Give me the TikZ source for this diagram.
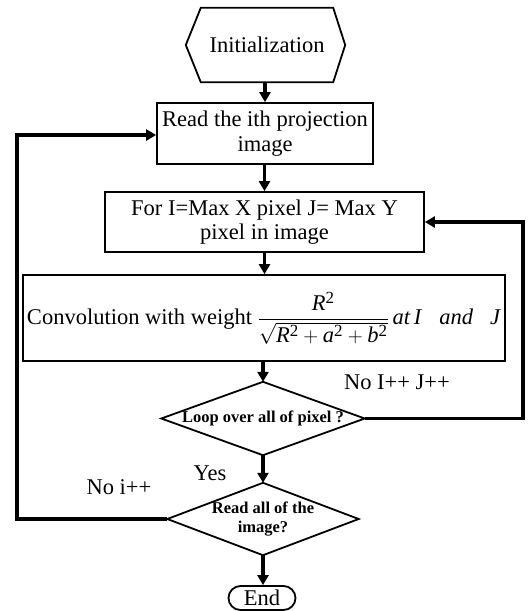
\documentclass[tikz,border=0pt]{standalone}
\usepackage{amsmath}
\usepackage{fontspec}
\setmainfont{Liberation Serif}
\usetikzlibrary{arrows.meta}
\newcommand\mysq{^{\text{\fontsize{17}{17}\selectfont\upshape 2}}}
\begin{document}
\begin{tikzpicture}[x=1pt,y=-1pt,
  txt/.style={font=\fontsize{22.5}{24.5}\selectfont},
  box/.style={txt,draw,line width=1.8pt,align=center,inner sep=0pt},
  conn/.style={line width=3.2pt,-{Triangle[length=10pt,width=11pt]}},
  decn/.style={font=\bfseries\fontsize{16.5}{18.5}\selectfont,align=center,inner sep=0pt},
  outline/.style={line width=1.8pt,line join=miter}
]
\useasboundingbox (0,0) rectangle (529,611);

% Initialization hexagon
\node[txt,minimum width=132pt,minimum height=74pt,inner sep=0pt] (init) at (267,45) {Initialization};
\draw[outline] (init.north west) -- (init.north east) -- ([xshift=12pt]init.east)
  -- (init.south east) -- (init.south west) -- ([xshift=-15pt]init.west) -- cycle;

% Boxes
\node[box,minimum width=216pt,minimum height=61pt] (read) at (265,133.5) {Read the ith projection\\image};
\node[box,minimum width=319pt,minimum height=60pt] (for) at (264.5,222) {For I=Max X pixel J= Max Y\\pixel in image};
\node[box,minimum width=482pt,minimum height=86pt] (conv) at (264,318)
 {\makebox[474pt][s]{Convolution with weight\ $\dfrac{\mathit{R}\mysq}{\sqrt{\mathit{R}\mysq+\mathit{a}\mysq+\mathit{b}\mysq}}$\,\textit{at\,I}\hfill\textit{and}\hfill\textit{J}}};

% Diamonds
\node[decn,minimum width=203pt,minimum height=73pt] (loop) at (263,418.5) {Loop over all of pixel ?};
\draw[outline] (loop.north) -- (loop.east) -- (loop.south) -- (loop.west) -- cycle;
\node[decn,minimum width=191pt,minimum height=72pt] (all) at (263,519) {Read all of the\\image?};
\draw[outline] (all.north) -- (all.east) -- (all.south) -- (all.west) -- cycle;

% End
\node[txt,draw,line width=1.8pt,rounded corners=12pt,minimum width=67pt,minimum height=24pt,inner sep=0pt] (end) at (262,598) {End};

% Labels
\node[txt] (lab1) at (397,382) {No I++ J++};
\node[txt] (lab2) at (210,473) {Yes};
\node[txt] (lab3) at (119,487) {No i++};

% Corner coordinates
\coordinate (r1) at (523,418.5);
\coordinate (r2) at (523,222);
\coordinate (l1) at (17,519);
\coordinate (l2) at (17,135);

% Connectors
\draw[conn] (init.south -| read.north) -- (read.north);
\draw[conn] (read.south -| for.north) -- (for.north);
\draw[conn] (for.south) -- (for.south |- conv.north);
\draw[conn] (conv.south -| loop.north) -- (loop.north);
\draw[conn] (loop.south) -- (all.north);
\draw[conn] (all.south) -- (all.south |- end.north);
\draw[conn,line join=miter] (loop.east) -- (r1) -- (r2) -- (for.east |- r2);
\draw[conn,line join=miter] (all.west) -- (l1) -- (l2) -- (read.west |- l2);
\end{tikzpicture}
\end{document}
